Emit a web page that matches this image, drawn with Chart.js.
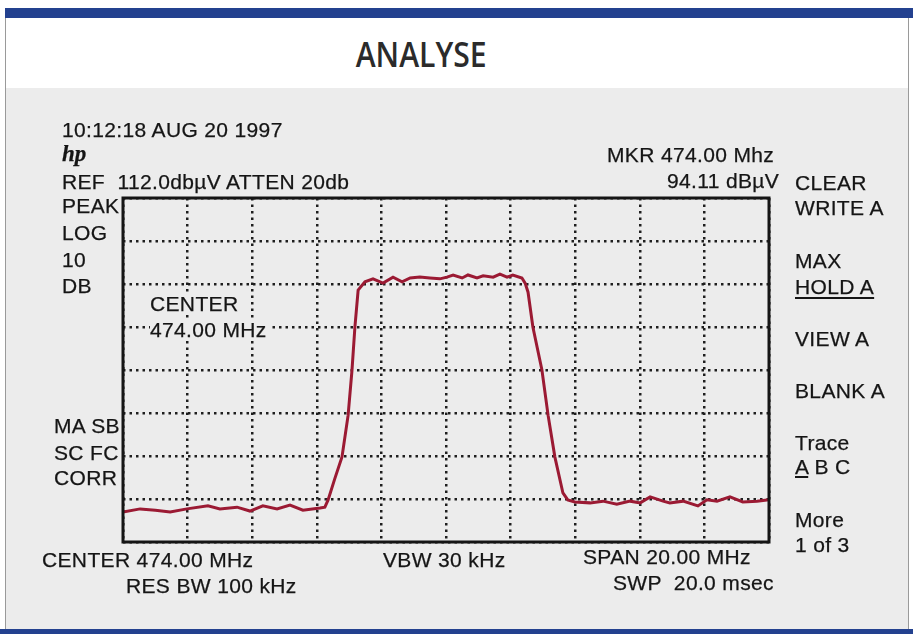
<!DOCTYPE html>
<html>
<head>
<meta charset="utf-8">
<script src="https://cdn.jsdelivr.net/npm/chart.js@4.4.1/dist/chart.umd.min.js"></script>
<style>
  html, body { margin: 0; padding: 0; background: #ffffff; }
  #page { position: relative; width: 913px; height: 634px; overflow: hidden; background: #ffffff; }
  #topbar { position: absolute; left: 5px; top: 8px; width: 908px; height: 10px; background: #23418f; }
  #botbar { position: absolute; left: 0; top: 629px; width: 913px; height: 5px; background: #23418f; }
  #leftline { position: absolute; left: 5px; top: 18px; width: 1px; height: 611px; background: #9a9a9a; }
  #rightline { position: absolute; left: 908px; top: 18px; width: 1px; height: 611px; background: #9a9a9a; }
  #paper { position: absolute; left: 6px; top: 88px; width: 902px; height: 541px; background: #ececec; }
  #title { position: absolute; left: 0; width: 842px; top: 34px; text-align: center;
           font-family: "Open Sans", "Liberation Sans", sans-serif; font-weight: 600; font-size: 35px;
           color: #2b2b2b; line-height: 40px; }
  #title span { display: inline-block; transform: scaleX(0.86); transform-origin: center; }
  canvas { position: absolute; left: 0; top: 0; }
  .lbl { position: absolute; font-family: "Liberation Sans", Arial, sans-serif; font-size: 21px;
         line-height: 21px; color: #151515; white-space: pre; letter-spacing: 0.35px;
         -webkit-text-stroke: 0.25px #151515; }
  .hp { font-family: "Liberation Serif", "Times New Roman", serif; font-style: italic; font-weight: bold; font-size: 23px; letter-spacing: 0; }
  .u { text-decoration: underline; text-underline-offset: 3px; }
  .bg { background: #ececec; padding-right: 2px; }
</style>
</head>
<body>
<div id="page">
  <div id="paper"></div>
  <div id="topbar"></div>
  <div id="botbar"></div>
  <div id="leftline"></div>
  <div id="rightline"></div>
  <div id="title"><span>ANALYSE</span></div>
  <canvas id="c" width="913" height="634"></canvas>
</div>
<script>
// ---- Data (spectrum analyser trace A) ----
const freqMHz = [
  464.00, 464.53, 465.00, 465.46, 465.98, 466.63, 467.00, 467.53, 467.93, 468.33,
  468.77, 469.17, 469.57, 470.10, 470.25,
  470.35, 470.56, 470.78, 470.97, 471.09, 471.18, 471.28, 471.49, 471.74,
  472.05, 472.36, 472.64, 472.89, 473.19, 473.50, 473.81, 474.03, 474.22, 474.50,
  474.68, 474.96, 475.15, 475.46, 475.67, 475.89, 476.07, 476.35,
  476.45, 476.54, 476.69, 476.97, 477.16, 477.37, 477.62, 477.77,
  477.99, 478.46, 478.86, 479.29, 479.70, 480.01, 480.32, 480.72, 480.93, 481.34,
  481.80, 482.08, 482.39, 482.79, 483.19, 483.63, 484.00
];
const levelDbuV = [
  39.0, 39.7, 39.4, 39.0, 39.7, 40.4, 39.7, 40.1, 39.2, 40.4,
  39.7, 40.6, 39.4, 39.9, 40.1,
  41.8, 46.8, 51.8, 61.5, 72.0, 82.0, 90.6, 92.5, 93.2,
  92.2, 93.6, 92.5, 93.4, 93.6, 93.4, 93.2, 93.6, 94.1, 93.4,
  94.1, 93.4, 93.9, 93.6, 94.3, 93.6, 94.1, 93.4,
  92.2, 90.1, 82.0, 72.0, 61.5, 51.8, 43.4, 41.8,
  41.3, 41.1, 41.5, 40.8, 41.5, 41.1, 42.5, 41.5, 41.1, 41.5,
  40.4, 41.8, 41.5, 42.5, 41.3, 41.5, 41.8
];
// Axis settings: centre 474 MHz, span 20 MHz (2 MHz/div); ref 112 dBuV, 10 dB/div, 8 divisions
const freqTicks = [464, 466, 468, 470, 472, 474, 476, 478, 480, 482, 484];
const levelTicks = [32, 42, 52, 62, 72, 82, 92, 102, 112];

// ---- Annotation texts ----
const annotations = [
  ["10:12:18 AUG 20 1997", 62, 137, ""],
  ["hp", 62, 162, "hp"],
  ["REF  112.0dbµV ATTEN 20db", 62, 189, ""],
  ["PEAK", 62, 213, ""],
  ["LOG", 62, 240, ""],
  ["10", 62, 267, ""],
  ["DB", 62, 293, ""],
  ["CENTER", 150, 311, "bg"],
  ["474.00 MHz", 150, 337, "bg"],
  ["MA SB", 54, 433, ""],
  ["SC FC", 54, 460, ""],
  ["CORR", 54, 485, ""],
  ["CENTER 474.00 MHz", 42, 567, ""],
  ["RES BW 100 kHz", 126, 593, ""],
  ["VBW 30 kHz", 383, 567, ""],
  ["SPAN 20.00 MHz", 583, 564, ""],
  ["SWP  20.0 msec", 613, 590, ""],
  ["MKR 474.00 Mhz", 607, 162, ""],
  ["94.11 dBµV", 667, 188, ""],
  ["CLEAR", 795, 190, ""],
  ["WRITE A", 795, 215, ""],
  ["MAX", 795, 268, ""],
  ["HOLD A", 795, 294, "u"],
  ["VIEW A", 795, 346, ""],
  ["BLANK A", 795, 398, ""],
  ["Trace", 795, 450, ""],
  ["<u>A</u> B C", 795, 474, "html"],
  ["More", 795, 527, ""],
  ["1 of 3", 795, 552, ""]
];

const page = document.getElementById('page');
annotations.forEach(([t, x, base, kind]) => {
  const d = document.createElement('div');
  d.className = 'lbl' + (kind === 'hp' ? ' hp' : '') + (kind === 'u' ? ' u' : '') + (kind === 'bg' ? ' bg' : '');
  if (kind === 'html') d.innerHTML = t; else d.textContent = t;
  const fs = kind === 'hp' ? 23 : 21;
  d.style.left = x + 'px';
  d.style.top = (base - fs * 0.8465) + 'px';
  page.appendChild(d);
});

const framePlugin = {
  id: 'frame',
  afterDatasetsDraw(chart) {
    const { ctx, chartArea: a } = chart;
    ctx.save();
    ctx.lineWidth = 3;
    ctx.strokeStyle = '#151515';
    ctx.strokeRect(a.left, a.top, a.right - a.left, a.bottom - a.top);
    ctx.restore();
  }
};

const gridStyle = { color: '#1e1e1e', lineWidth: 2.5, drawTicks: false };

new Chart(document.getElementById('c'), {
  type: 'line',
  data: {
    datasets: [{
      label: 'Trace A',
      data: freqMHz.map((f, i) => ({ x: f, y: levelDbuV[i] })),
      borderColor: '#9b1a33',
      borderWidth: 3,
      pointRadius: 0,
      tension: 0,
      fill: false
    }]
  },
  options: {
    responsive: false,
    animation: false,
    layout: { padding: { left: 123, right: 144, top: 198, bottom: 92 } },
    plugins: { legend: { display: false }, tooltip: { enabled: false }, title: { display: false } },
    scales: {
      x: {
        type: 'linear',
        min: freqTicks[0], max: freqTicks[freqTicks.length - 1],
        afterBuildTicks: s => { s.ticks = freqTicks.map(v => ({ value: v })); },
        ticks: { display: false },
        grid: gridStyle,
        border: { display: false, dash: [2.5, 4] },
        afterFit: s => { s.height = 0; }
      },
      y: {
        type: 'linear',
        min: levelTicks[0], max: levelTicks[levelTicks.length - 1],
        afterBuildTicks: s => { s.ticks = levelTicks.map(v => ({ value: v })); },
        ticks: { display: false },
        grid: gridStyle,
        border: { display: false, dash: [2.5, 4] },
        afterFit: s => { s.width = 0; }
      }
    }
  },
  plugins: [framePlugin]
});
</script>
</body>
</html>
